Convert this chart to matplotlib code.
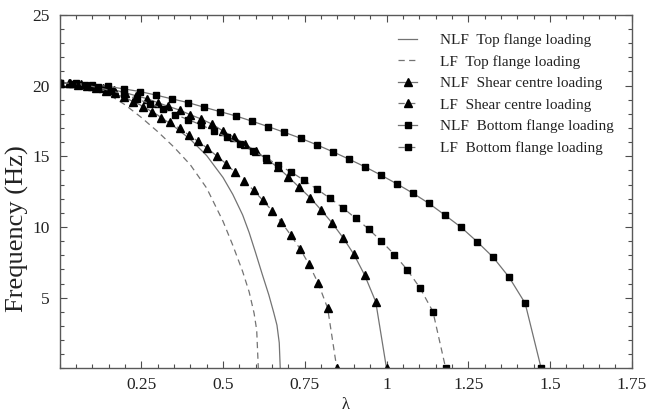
import matplotlib
matplotlib.use("Agg")
import matplotlib.pyplot as plt
from matplotlib.ticker import FixedLocator, MultipleLocator

plt.rcParams['font.family'] = ['Liberation Serif', 'DejaVu Serif']

# ---------------- data ----------------
lam_nlf_top = [0, 0.05, 0.1, 0.15, 0.2, 0.25, 0.3, 0.35, 0.4, 0.45, 0.5, 0.53, 0.56, 0.58, 0.6,
               0.62, 0.64, 0.655, 0.665, 0.672, 0.675]
f_nlf_top = [20.2, 20.12, 19.9, 19.58, 19.15, 18.6, 17.92, 17.12, 16.2, 15.05, 13.5, 12.3, 10.85, 9.6, 8.15,
             6.65, 5.2, 3.95, 3.05, 1.8, 0]

lam_lf_top = [0, 0.05, 0.1, 0.15, 0.2, 0.25, 0.3, 0.35, 0.4, 0.45, 0.5, 0.53, 0.56, 0.58, 0.595, 0.603, 0.608]
f_lf_top = [20.2, 20.1, 19.82, 19.38, 18.65, 17.75, 16.75, 15.65, 14.4, 12.75, 10.4, 8.7, 6.85, 5.4, 3.9, 2.7, 0]

lam_nlf_shear = [0, 0.033, 0.067, 0.1, 0.133, 0.167, 0.2, 0.233, 0.267, 0.3, 0.333, 0.367, 0.4, 0.433,
                 0.467, 0.5, 0.533, 0.567, 0.6, 0.633, 0.667, 0.7, 0.733, 0.767, 0.8, 0.833, 0.867, 0.9,
                 0.933, 0.967, 1.0]
f_nlf_shear = [20.2, 20.16, 20.1, 20.0, 19.86, 19.7, 19.5, 19.29, 19.08, 18.8, 18.53, 18.27, 17.94, 17.64,
               17.27, 16.79, 16.35, 15.87, 15.36, 14.82, 14.22, 13.54, 12.81, 12.06, 11.2, 10.3, 9.24, 8.07,
               6.6, 4.71, 0]

lam_lf_shear = [0, 0.028, 0.057, 0.085, 0.113, 0.141, 0.170, 0.198, 0.226, 0.254, 0.283, 0.311, 0.339, 0.367,
                0.396, 0.424, 0.452, 0.481, 0.509, 0.537, 0.565, 0.594, 0.622, 0.650, 0.678, 0.707, 0.735,
                0.763, 0.791, 0.820, 0.848]
f_lf_shear = [20.2, 20.15, 20.06, 19.95, 19.8, 19.64, 19.46, 19.18, 18.87, 18.51, 18.13, 17.74, 17.4, 16.98,
              16.5, 16.05, 15.57, 15.02, 14.48, 13.86, 13.25, 12.58, 11.88, 11.15, 10.35, 9.43, 8.47,
              7.36, 6.02, 4.25, 0]

lam_nlf_bottom = [0, 0.049, 0.098, 0.147, 0.196, 0.246, 0.295, 0.344, 0.393, 0.442, 0.491, 0.540, 0.589,
                  0.638, 0.687, 0.737, 0.786, 0.835, 0.884, 0.933, 0.982, 1.031, 1.080, 1.129, 1.178, 1.228,
                  1.277, 1.326, 1.375, 1.424, 1.473]
f_nlf_bottom = [20.2, 20.15, 20.07, 19.95, 19.77, 19.58, 19.33, 19.06, 18.8, 18.47, 18.16, 17.85, 17.48,
                17.10, 16.70, 16.28, 15.82, 15.33, 14.81, 14.27, 13.68, 13.06, 12.4, 11.68, 10.85, 9.98,
                8.96, 7.86, 6.44, 4.60, 0]

lam_lf_bottom = [0, 0.039, 0.079, 0.118, 0.157, 0.197, 0.236, 0.276, 0.315, 0.354, 0.394, 0.433, 0.472,
                 0.512, 0.551, 0.591, 0.630, 0.669, 0.709, 0.748, 0.787, 0.827, 0.866, 0.906, 0.945, 0.984,
                 1.024, 1.063, 1.102, 1.142, 1.181]
f_lf_bottom = [20.2, 20.14, 20.03, 19.87, 19.64, 19.39, 19.07, 18.72, 18.38, 17.95, 17.59, 17.22, 16.8,
               16.34, 15.86, 15.38, 14.9, 14.39, 13.88, 13.3, 12.68, 12.03, 11.36, 10.61, 9.86, 9.0,
               8.05, 6.98, 5.7, 4.01, 0]

labels = ["NLF  Top flange loading", "LF  Top flange loading",
          "NLF  Shear centre loading", "LF  Shear centre loading",
          "NLF  Bottom flange loading", "LF  Bottom flange loading"]

x_ticks = [0.25, 0.5, 0.75, 1.0, 1.25, 1.5, 1.75]
x_tick_labels = ["0.25", "0.5", "0.75", "1", "1.25", "1.5", "1.75"]
y_ticks = [5, 10, 15, 20, 25]
y_tick_labels = ["5", "10", "15", "20", "25"]

# ---------------- figure ----------------
fig = plt.figure(figsize=(6.54, 4.15), dpi=100)
ax = fig.add_axes([0.091, 0.1125, 0.875, 0.8515])

line_c = '0.45'
dash = (0, (5, 3.5))
lw = 0.9

ax.plot(lam_nlf_top, f_nlf_top, color=line_c, lw=lw, ls='-', label=labels[0])
ax.plot(lam_lf_top, f_lf_top, color=line_c, lw=lw, ls=dash, label=labels[1])
ax.plot(lam_nlf_shear, f_nlf_shear, color=line_c, lw=lw, ls='-', marker='^', ms=5.5,
        mfc='k', mec='k', label=labels[2])
ax.plot(lam_lf_shear, f_lf_shear, color=line_c, lw=lw, ls=dash, marker='^', ms=5.5,
        mfc='k', mec='k', label=labels[3])
ax.plot(lam_nlf_bottom, f_nlf_bottom, color=line_c, lw=lw, ls='-', marker='s', ms=3.8,
        mfc='k', mec='k', label=labels[4])
ax.plot(lam_lf_bottom, f_lf_bottom, color=line_c, lw=lw, ls=dash, marker='s', ms=3.8,
        mfc='k', mec='k', label=labels[5])

ax.set_xlim(0, 1.75)
ax.set_ylim(0, 25)

ax.xaxis.set_major_locator(FixedLocator(x_ticks))
ax.set_xticklabels(x_tick_labels)
ax.yaxis.set_major_locator(FixedLocator(y_ticks))
ax.set_yticklabels(y_tick_labels)
ax.xaxis.set_minor_locator(MultipleLocator(0.05))
ax.yaxis.set_minor_locator(MultipleLocator(1))

ax.tick_params(which='both', direction='in', top=True, right=True, colors='0.3',
               labelcolor='#222222', labelsize=12.5)
ax.tick_params(which='major', length=5, width=0.8)
ax.tick_params(which='minor', length=3, width=0.8)
ax.tick_params(axis='x', pad=6)
ax.tick_params(axis='y', pad=7)

for s in ax.spines.values():
    s.set_color('0.35')
    s.set_linewidth(1.0)

ax.set_xlabel("λ", fontsize=12, color='#222222', labelpad=3)
ax.set_ylabel("Frequency (Hz)", fontsize=19, color='#222222')
ax.yaxis.set_label_coords(-0.053, 0.394)

leg = ax.legend(loc='upper right', frameon=False, fontsize=11, numpoints=1,
                handlelength=1.2, handletextpad=1.5, labelspacing=0.515,
                borderaxespad=0.8)
for t in leg.get_texts():
    t.set_color('#222222')

fig.savefig("out.png", dpi=100)
